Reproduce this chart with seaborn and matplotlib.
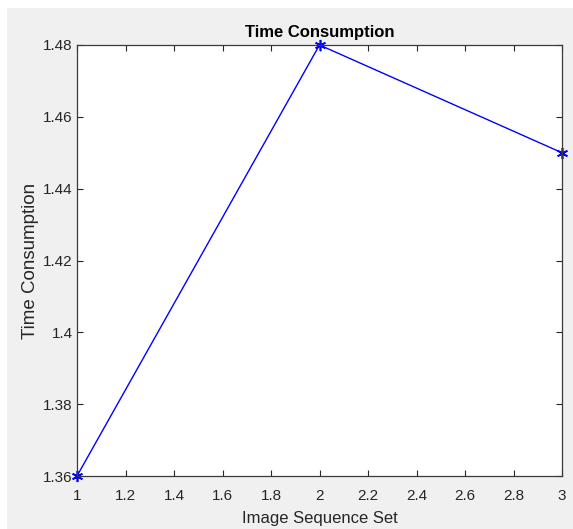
import matplotlib
matplotlib.use("Agg")
import matplotlib.pyplot as plt
import seaborn as sns
import pandas as pd
from matplotlib.patches import Rectangle

x_vals = [1, 2, 3]
y_vals = [1.36, 1.48, 1.45]
x_ticks = [1, 1.2, 1.4, 1.6, 1.8, 2, 2.2, 2.4, 2.6, 2.8, 3]
x_tick_labels = ["1", "1.2", "1.4", "1.6", "1.8", "2", "2.2", "2.4", "2.6", "2.8", "3"]
y_ticks = [1.36, 1.38, 1.40, 1.42, 1.44, 1.46, 1.48]
y_tick_labels = ["1.36", "1.38", "1.4", "1.42", "1.44", "1.46", "1.48"]

sns.set_style("white")
plt.rcParams['font.family'] = ['Liberation Sans', 'DejaVu Sans']

W, H = 573, 529
fig = plt.figure(figsize=(W / 100, H / 100), dpi=100)
fig.patch.set_facecolor("white")
fig.patches.append(Rectangle((7 / W, 0), 1 - 7 / W, (H - 8) / H, transform=fig.transFigure,
                             facecolor="#f0f0f0", edgecolor="none", zorder=-10))

ax = fig.add_axes([77 / W, 1 - 476 / H, (562 - 77) / W, (476 - 45) / H])
ax.set_facecolor("white")

df = pd.DataFrame({"x": x_vals, "y": y_vals})
sns.lineplot(data=df, x="x", y="y", ax=ax, color="#0000ff", linewidth=1.0,
             marker=(6, 2, 0), markersize=8, markeredgewidth=1.2,
             markeredgecolor="#0000ff", clip_on=False)

ax.set_xlim(1, 3)
ax.set_ylim(1.36, 1.48)
ax.set_xticks(x_ticks)
ax.set_xticklabels(x_tick_labels)
ax.set_yticks(y_ticks)
ax.set_yticklabels(y_tick_labels)

tc = "#262626"
ax.tick_params(direction="in", length=4.5, width=0.8, colors=tc, labelsize=11,
               top=True, right=True, bottom=True, left=True)
ax.tick_params(axis="x", pad=9)
ax.tick_params(axis="y", pad=3)
for s in ax.spines.values():
    s.set_visible(True)
    s.set_color("#3a3a3a")
    s.set_linewidth(0.9)

ax.set_title("Time Consumption", fontsize=12, fontweight="bold", color="black", pad=6)
ax.set_xlabel("Image Sequence Set", fontsize=12, color=tc, labelpad=6)
ax.set_ylabel("Time Consumption", fontsize=13.5, color=tc, labelpad=3)

fig.savefig("out.png", dpi=100, facecolor=fig.get_facecolor())
